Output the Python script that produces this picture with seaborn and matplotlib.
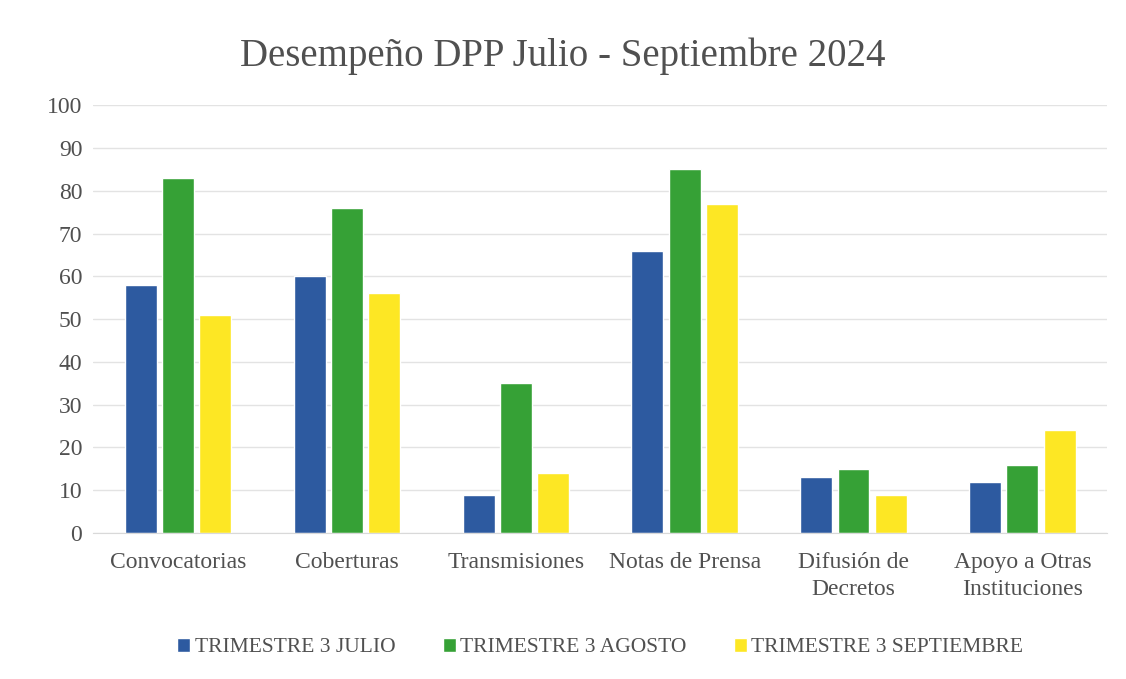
import matplotlib
matplotlib.use("Agg")
import matplotlib.pyplot as plt
import seaborn as sb
import pandas as pd

# datos del grafico
categorias = ["Convocatorias", "Coberturas", "Transmisiones", "Notas de Prensa",
              "Difusión de\nDecretos", "Apoyo a Otras\nInstituciones"]
series = ["TRIMESTRE 3 JULIO", "TRIMESTRE 3 AGOSTO", "TRIMESTRE 3 SEPTIEMBRE"]
julio = [58, 60, 9, 66, 13, 12]
agosto = [83, 76, 35, 85, 15, 16]
septiembre = [51, 56, 14, 77, 9, 24]
colores = ["#2D5AA0", "#36A136", "#FDE724"]

df = pd.DataFrame({"categoria": categorias * 3,
                   "serie": [s for s in series for _ in categorias],
                   "valor": julio + agosto + septiembre})

sb.set_style("white")
plt.rcParams["font.family"] = ["Liberation Serif", "DejaVu Serif"]
gris = "#505050"

fig = plt.figure(figsize=(11.26, 6.79), dpi=100)
ax = fig.add_axes([0.083, 0.215, 0.9, 0.63])

sb.barplot(data=df, x="categoria", y="valor", hue="serie", palette=colores,
           width=0.66, gap=0.14, ax=ax, saturation=1)

ax.set_ylim(0, 100)
ax.set_yticks(range(0, 101, 10))
ax.set_xlim(-0.5, 5.5)
ax.grid(axis="y", color="#E3E3E3", linewidth=1)
ax.set_axisbelow(True)
for lado in ["top", "right", "left"]:
    ax.spines[lado].set_visible(False)
ax.spines["bottom"].set_color("#D9D9D9")
ax.tick_params(axis="y", length=0, labelsize=17, colors=gris, pad=8)
ax.tick_params(axis="x", length=0, labelsize=17, colors=gris, pad=14)
for t in ax.get_xticklabels():
    t.set_linespacing(1.35)
ax.set_xlabel("")
ax.set_ylabel("")

fig.suptitle("Desempeño DPP Julio - Septiembre 2024", fontsize=28, color=gris, y=0.945)

ax.legend(loc="upper center", bbox_to_anchor=(0.5, -0.2), ncol=3, frameon=False,
          fontsize=15.5, handlelength=0.6, handleheight=0.6, handletextpad=0.2,
          columnspacing=2.2, labelcolor=gris)

fig.savefig("out.png", dpi=100, facecolor="white")
